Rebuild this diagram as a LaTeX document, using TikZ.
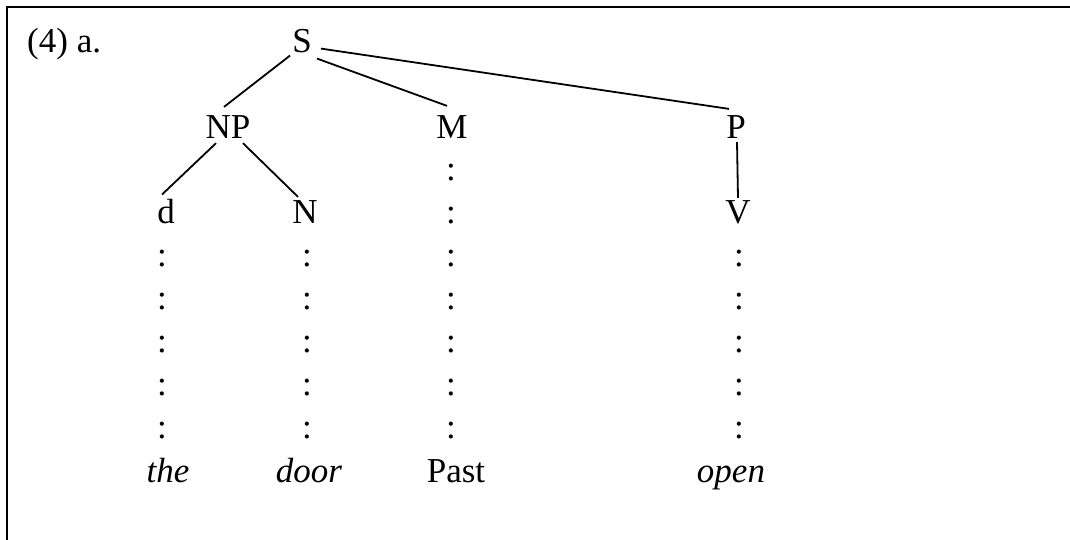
\documentclass[tikz,border=0pt]{standalone}
\usepackage{fontspec}
\setmainfont{Liberation Serif}
\begin{document}
\begin{tikzpicture}[x=1pt,y=-1pt,
  every node/.style={inner sep=0pt, anchor=base, font=\fontsize{35}{42}\selectfont},
  word/.style={font=\fontsize{35}{42}\selectfont\itshape},
  branch/.style={line width=1.8pt},
  frameline/.style={line width=2.2pt}]
\useasboundingbox (0,0) rectangle (1070,539);
\draw[frameline] (7,545) -- (7,7) -- (1075,7);
% label
\node[anchor=base west] (lab) at (27,52) {(4) a.};
% tree nodes
\node (S)  at (302,52)  {S};
\node (NP) at (228,138) {NP};
\node (M)  at (452,138) {M};
\node (P)  at (736,138) {P};
\node (d)  at (166,223) {d};
\node (N)  at (305,223) {N};
\node (V)  at (738,223) {V};
% words
\node[word] (the)  at (168,482) {the};
\node[word] (door) at (309,482) {door};
\node (past) at (456,482) {Past};
\node[word] (open) at (731,482) {open};
% branches
\draw[branch] ([shift={(-2,3)}]S.south west) -- ([shift={(-4,-8)}]NP.north);
\draw[branch] ([shift={(5,6)}]S.south east) -- ([shift={(-5,-9)}]M.north);
\draw[branch] ([shift={(9,8)}]S.east) -- ([shift={(-7,-6)}]P.north);
\draw[branch] ([shift={(-12,5)}]NP.south) -- ([shift={(-4,-4)}]d.north);
\draw[branch] ([shift={(15,5)}]NP.south) -- ([shift={(-7,-3)}]N.north);
\draw[branch] ([shift={(1,4)}]P.south) -- ([shift={(0,-2)}]V.north);
% dotted association lines (colons)
\foreach \k in {2,...,6} {
  \node (cd\k) at (162,180+43*\k) {:};
  \node (cn\k) at (307,180+43*\k) {:};
  \node (cv\k) at (739,180+43*\k) {:};
}
\foreach \k in {0,...,6} {
  \node (cm\k) at (451,180+43*\k) {:};
}
\end{tikzpicture}
\end{document}
